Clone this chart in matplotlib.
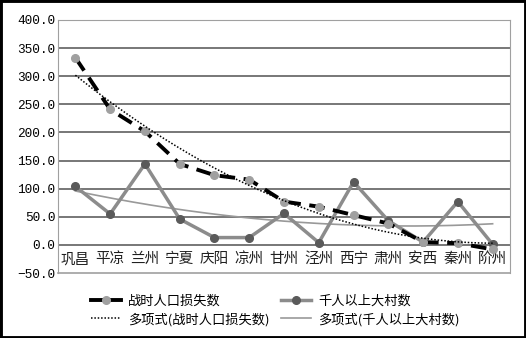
import matplotlib
matplotlib.use("Agg")
import matplotlib.pyplot as plt
import numpy as np
from matplotlib.patches import Rectangle
from matplotlib.lines import Line2D

plt.rcParams['font.family'] = ['Noto Sans CJK SC', 'DejaVu Sans']

cities = ['巩昌', '平凉', '兰州', '宁夏', '庆阳', '凉州', '甘州',
          '泾州', '西宁', '肃州', '安西', '秦州', '阶州']
loss = [333, 241, 202, 144, 124, 116, 77, 68, 53, 38, 5, 3, -8]
villages = [104, 55, 144, 46, 13, 13, 56, 4, 112, 43, 5, 77, 1]
yticks = [-50, 0, 50, 100, 150, 200, 250, 300, 350, 400]

fig = plt.figure(figsize=(5.26, 3.38), dpi=100)
fig.patches.append(Rectangle((0, 0), 1, 1, transform=fig.transFigure,
                             fill=False, edgecolor='black', linewidth=3.5))
ax = fig.add_axes([58 / 526, 1 - 273 / 338, 452 / 526, 253 / 338])

x = np.arange(len(cities))
ax.set_xlim(-0.5, len(cities) - 0.5)
ax.set_ylim(-50, 400)

# gridlines
for v in yticks[1:-1]:
    ax.axhline(v, color='#606060', lw=1.2, zorder=1)

# plot area frame
for s in ['top', 'left', 'right']:
    ax.spines[s].set_color('#a0a0a0')
ax.spines['bottom'].set_visible(False)
ax.axhline(-50, color='#a0a0a0', lw=1.2, zorder=1, clip_on=False)

# polynomial trend lines (order 2)
xs = np.linspace(0, len(cities) - 1, 200)
p1 = np.polyfit(x, loss, 2)
p2 = np.polyfit(x, villages, 2)
ax.plot(xs, np.polyval(p2, xs), color='#999999', lw=1.2, zorder=2)
ax.plot(x, villages, color='#8c8c8c', lw=2.5, marker='o', ms=5.5,
        mfc='#5a5a5a', mec='#5a5a5a', zorder=3)
ax.plot(x, loss, color='black', lw=2.8, ls=(0, (4, 2.2)), marker='o',
        ms=5.5, mfc='#a0a0a0', mec='#a0a0a0', zorder=4)
ax.plot(xs, np.polyval(p1, xs), color='black', lw=1.1, ls=(0, (1, 1.2)),
        zorder=5)

ax.set_yticks(yticks)
ax.set_yticklabels(['%.1f' % v if v >= 0 else '\u2212%.1f' % -v for v in yticks],
                   family='Liberation Mono', fontsize=9.2)
ax.tick_params(axis='y', length=0, pad=2)
ax.set_xticks([])
for i, c in enumerate(cities):
    ax.text(i, -13, c, ha='center', va='top', fontsize=10.5, color='#202020')

handles = [
    Line2D([], [], color='black', lw=2.8, marker='o', ms=5.5,
           mfc='#a0a0a0', mec='#a0a0a0'),
    Line2D([], [], color='#8c8c8c', lw=2.5, marker='o', ms=5.5,
           mfc='#5a5a5a', mec='#5a5a5a'),
    Line2D([], [], color='black', lw=1.1, ls=(0, (1, 1.2))),
    Line2D([], [], color='#999999', lw=1.2),
]
labels = ['战时人口损失数', '千人以上大村数',
          '多项式(战时人口损失数)', '多项式(千人以上大村数)']
order = [0, 2, 1, 3]
fig.legend([handles[i] for i in order], [labels[i] for i in order],
           ncol=2, loc='upper center',
           bbox_to_anchor=(0.5 + 12 / 526, 1 - 283 / 338), frameon=False,
           fontsize=9.5, handlelength=2.3, handletextpad=0.5,
           columnspacing=0.9, labelspacing=0.35)

fig.savefig('out.png', dpi=100)
